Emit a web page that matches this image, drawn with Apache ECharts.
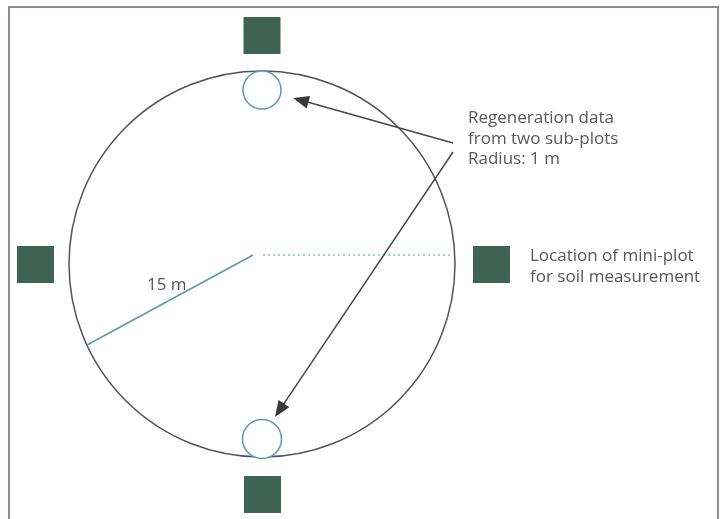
<!DOCTYPE html>
<html>
<head>
<meta charset="utf-8">
<script src="https://cdn.jsdelivr.net/npm/echarts@6/dist/echarts.min.js"></script>
<style>
html,body{margin:0;padding:0;background:#fff;}
#chart{width:720px;height:519px;}
</style>
</head>
<body>
<div id="chart"></div>
<script>
// Diagram geometry in drawing units (x to the right, y downwards)
const frame = [[9, 540], [9, 7], [718, 7], [718, 540]];
const plotCircle = [[262, 264, 193]];               // cx, cy, radius (15 m plot)
const subPlots = [[262, 90, 19], [262, 439, 19.5]]; // regeneration sub-plots (1 m)
const miniPlots = [[262, 35.5], [262.5, 494.5], [35.5, 264.5], [491.5, 264.5]];
const miniPlotSize = [37];
const radiusLine = [[253, 255, 87, 345]];
const dottedLine = [[263, 255, 452, 255]];
const arrows = [[453, 143, 293, 98], [453, 152, 275, 417]];
const labelTexts = ['Regeneration data', 'from two sub-plots', 'Radius: 1 m',
                    'Location of mini-plot', 'for soil measurement', '15 m'];
const labelAnchors = [[468, 122], [468, 143], [468, 163], [530, 260], [530, 281], [147, 289]];

const chart = echarts.init(document.getElementById('chart'));
const FONT = '17px "Open Sans", sans-serif';
const TEXT_COLOR = '#575757';

function seg(api, v) {
  return { a: api.coord([v[0], v[1]]), b: api.coord([v[2], v[3]]) };
}

const option = {
  animation: false,
  grid: { left: 0, right: 0, top: 0, bottom: 0 },
  xAxis: { type: 'value', min: 0, max: 720, show: false },
  yAxis: { type: 'value', min: 0, max: 519, inverse: true, show: false },
  series: [
    { // frame
      type: 'custom', data: [0], clip: false,
      renderItem: (p, api) => ({
        type: 'polyline',
        shape: { points: frame.map(q => api.coord(q)) },
        style: { stroke: '#8c8c98', lineWidth: 2, fill: null }
      })
    },
    { // plot circle
      type: 'custom', data: plotCircle,
      renderItem: (p, api) => {
        const c = api.coord([api.value(0), api.value(1)]);
        const r = api.size([api.value(2), 0])[0];
        return { type: 'circle', shape: { cx: c[0], cy: c[1], r: r },
          style: { fill: null, stroke: '#50525f', lineWidth: 1.5 } };
      }
    },
    { // sub-plots
      type: 'custom', data: subPlots,
      renderItem: (p, api) => {
        const c = api.coord([api.value(0), api.value(1)]);
        const r = api.size([api.value(2), 0])[0];
        return { type: 'circle', shape: { cx: c[0], cy: c[1], r: r },
          style: { fill: '#fff', stroke: '#5d9b9a', lineWidth: 1.5 } };
      }
    },
    { // mini-plots
      type: 'custom', data: miniPlots,
      renderItem: (p, api) => {
        const c = api.coord([api.value(0), api.value(1)]);
        const s = api.size([miniPlotSize[0], miniPlotSize[0]]);
        return { type: 'rect', shape: { x: c[0] - s[0] / 2, y: c[1] - s[1] / 2, width: s[0], height: s[1] },
          style: { fill: '#3e6253' } };
      }
    },
    { // radius line
      type: 'custom', data: radiusLine,
      renderItem: (p, api) => {
        const s = seg(api, [api.value(0), api.value(1), api.value(2), api.value(3)]);
        return { type: 'line', shape: { x1: s.a[0], y1: s.a[1], x2: s.b[0], y2: s.b[1] },
          style: { stroke: '#5d9b9a', lineWidth: 1.5 } };
      }
    },
    { // dotted line
      type: 'custom', data: dottedLine,
      renderItem: (p, api) => {
        const s = seg(api, [api.value(0), api.value(1), api.value(2), api.value(3)]);
        return { type: 'line', shape: { x1: s.a[0], y1: s.a[1], x2: s.b[0], y2: s.b[1] },
          style: { stroke: '#5a8fae', lineWidth: 1.2, lineDash: [2, 3] } };
      }
    },
    { // arrows
      type: 'custom', data: arrows,
      renderItem: (p, api) => {
        const s = seg(api, [api.value(0), api.value(1), api.value(2), api.value(3)]);
        const dx = s.b[0] - s.a[0], dy = s.b[1] - s.a[1];
        const len = Math.sqrt(dx * dx + dy * dy);
        const ux = dx / len, uy = dy / len;
        const hl = 16, hw = 6.5;
        const bx = s.b[0] - ux * hl, by = s.b[1] - uy * hl;
        return { type: 'group', children: [
          { type: 'line', shape: { x1: s.a[0], y1: s.a[1], x2: bx + ux * 2, y2: by + uy * 2 },
            style: { stroke: '#48484c', lineWidth: 1.5 } },
          { type: 'polygon', shape: { points: [[s.b[0], s.b[1]], [bx - uy * hw, by + ux * hw], [bx + uy * hw, by - ux * hw]] },
            style: { fill: '#3a3a3e' } }
        ] };
      }
    },
    { // labels
      type: 'custom', data: labelAnchors,
      renderItem: (p, api) => {
        const c = api.coord([api.value(0), api.value(1)]);
        return { type: 'text', x: c[0], y: c[1] + 5,
          style: { text: labelTexts[p.dataIndex], fill: TEXT_COLOR, font: FONT,
            textAlign: 'left', textVerticalAlign: 'bottom' } };
      }
    }
  ]
};
chart.setOption(option);
</script>
</body>
</html>
